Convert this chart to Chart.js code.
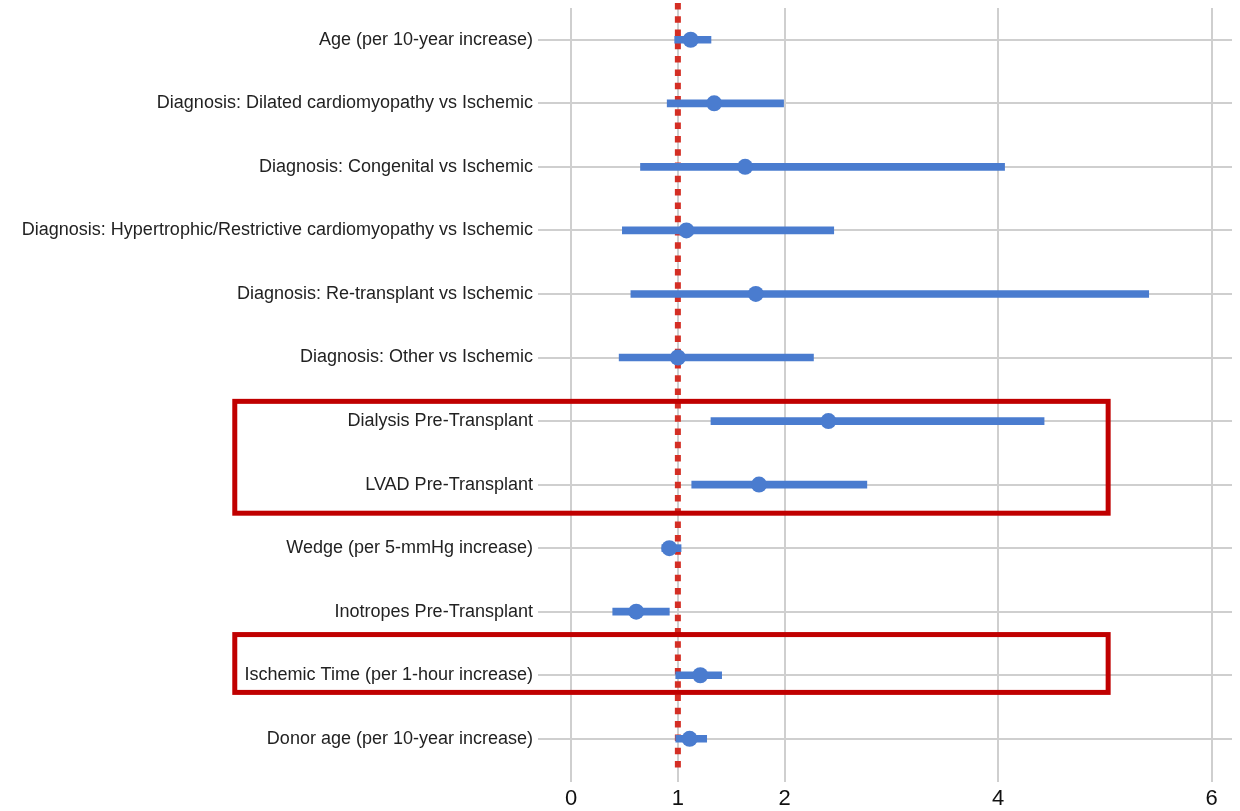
<!DOCTYPE html>
<html>
<head>
<meta charset="utf-8">
<script src="https://cdn.jsdelivr.net/npm/chart.js@4/dist/chart.umd.min.js"></script>
<style>
  html, body { margin: 0; padding: 0; background: #ffffff; }
  #wrap { width: 1240px; height: 811px; }
  canvas { display: block; }
</style>
</head>
<body>
<div id="wrap"><canvas id="forest" width="1240" height="811"></canvas></div>
<script>
// Hazard ratios with 95% confidence intervals, one row per covariate
const covariates = [
  "Age (per 10-year increase)",
  "Diagnosis: Dilated cardiomyopathy vs Ischemic",
  "Diagnosis: Congenital vs Ischemic",
  "Diagnosis: Hypertrophic/Restrictive cardiomyopathy vs Ischemic",
  "Diagnosis: Re-transplant vs Ischemic",
  "Diagnosis: Other vs Ischemic",
  "Dialysis Pre-Transplant",
  "LVAD Pre-Transplant",
  "Wedge (per 5-mmHg increase)",
  "Inotropes Pre-Transplant",
  "Ischemic Time (per 1-hour increase)",
  "Donor age (per 10-year increase)"
];
const hazardRatio = [1.12, 1.34, 1.63, 1.08, 1.73, 1.00, 2.41, 1.76, 0.92, 0.61, 1.21, 1.11];
const ciLower     = [0.97, 0.90, 0.65, 0.48, 0.56, 0.45, 1.31, 1.13, 0.85, 0.39, 0.98, 0.98];
const ciUpper     = [1.31, 1.99, 4.06, 2.46, 5.41, 2.27, 4.43, 2.77, 1.03, 0.92, 1.41, 1.27];
const xTicks      = [0, 1, 2, 4, 6];
const nullEffect  = 1;

// Highlighted groups of rows: [first row, last row], padding in row units above/below
const highlightGroups = [
  { rows: [6, 7],   padTop: 0.31, padBottom: 0.45 },
  { rows: [10, 10], padTop: 0.64, padBottom: 0.27 }
];
const highlightXRange = [-3.15, 5.03];

const blue = "#4a7ccf";
const red = "#d42e24";
const boxRed = "#c00000";

const rowIdx = covariates.map((_, i) => i);

const highlightBoxes = {
  id: "highlightBoxes",
  afterDraw(chart) {
    const { ctx, scales } = chart;
    const xs = scales.x, ys = scales.y;
    ctx.save();
    ctx.strokeStyle = boxRed;
    ctx.lineWidth = 5;
    highlightGroups.forEach(g => {
      const left = xs.getPixelForValue(highlightXRange[0]);
      const right = xs.getPixelForValue(highlightXRange[1]);
      const top = ys.getPixelForValue(g.rows[0] - g.padTop);
      const bottom = ys.getPixelForValue(g.rows[1] + g.padBottom);
      ctx.strokeRect(left, top, right - left, bottom - top);
    });
    ctx.restore();
  }
};

new Chart(document.getElementById("forest"), {
  type: "bar",
  data: {
    datasets: [
      {
        type: "bar",
        label: "95% CI",
        indexAxis: "y",
        data: rowIdx.map(i => ({ x: [ciLower[i], ciUpper[i]], y: i })),
        backgroundColor: blue,
        borderWidth: 0,
        barThickness: 7,
        order: 2
      },
      {
        type: "line",
        label: "Hazard ratio",
        data: rowIdx.map(i => ({ x: hazardRatio[i], y: i })),
        showLine: false,
        pointRadius: 8,
        pointHoverRadius: 8,
        pointBackgroundColor: blue,
        pointBorderWidth: 0,
        order: 1
      },
      {
        type: "line",
        label: "No effect",
        data: [{ x: nullEffect, y: -0.58 }, { x: nullEffect, y: 11.45 }],
        borderColor: red,
        borderWidth: 6,
        borderDash: [6.5, 6.8],
        pointRadius: 0,
        fill: false,
        clip: false,
        order: 3
      }
    ]
  },
  options: {
    responsive: false,
    animation: false,
    maintainAspectRatio: false,
    indexAxis: "y",
    layout: { padding: { top: 2, right: 5, left: 0, bottom: 0 } },
    plugins: {
      legend: { display: false },
      tooltip: { enabled: false }
    },
    scales: {
      x: {
        type: "linear",
        min: -0.31,
        max: 6.19,
        afterBuildTicks(scale) {
          scale.ticks = xTicks.map(v => ({ value: v }));
        },
        afterFit(scale) {
          scale.height = 29;
          scale.paddingLeft = 0;
          scale.paddingRight = 0;
        },
        grid: { color: "#cfcfcf", lineWidth: 2, drawTicks: false },
        border: { display: false },
        ticks: {
          padding: 4,
          color: "#111111",
          font: { family: "Liberation Sans, Arial, sans-serif", size: 22 },
          callback: v => String(v)
        }
      },
      y: {
        type: "linear",
        reverse: true,
        offset: false,
        min: -0.5,
        max: 11.68,
        afterBuildTicks(scale) {
          scale.ticks = rowIdx.map(v => ({ value: v }));
        },
        afterFit(scale) {
          scale.width = 538;
          scale.paddingTop = 0;
          scale.paddingBottom = 0;
        },
        grid: { color: "#cfcfcf", lineWidth: 2, drawTicks: false, offset: false },
        border: { display: false },
        ticks: {
          padding: 5,
          color: "#222222",
          font: { family: "Liberation Sans, Arial, sans-serif", size: 18 },
          callback: v => covariates[v]
        }
      }
    }
  },
  plugins: [highlightBoxes]
});
</script>
</body>
</html>
